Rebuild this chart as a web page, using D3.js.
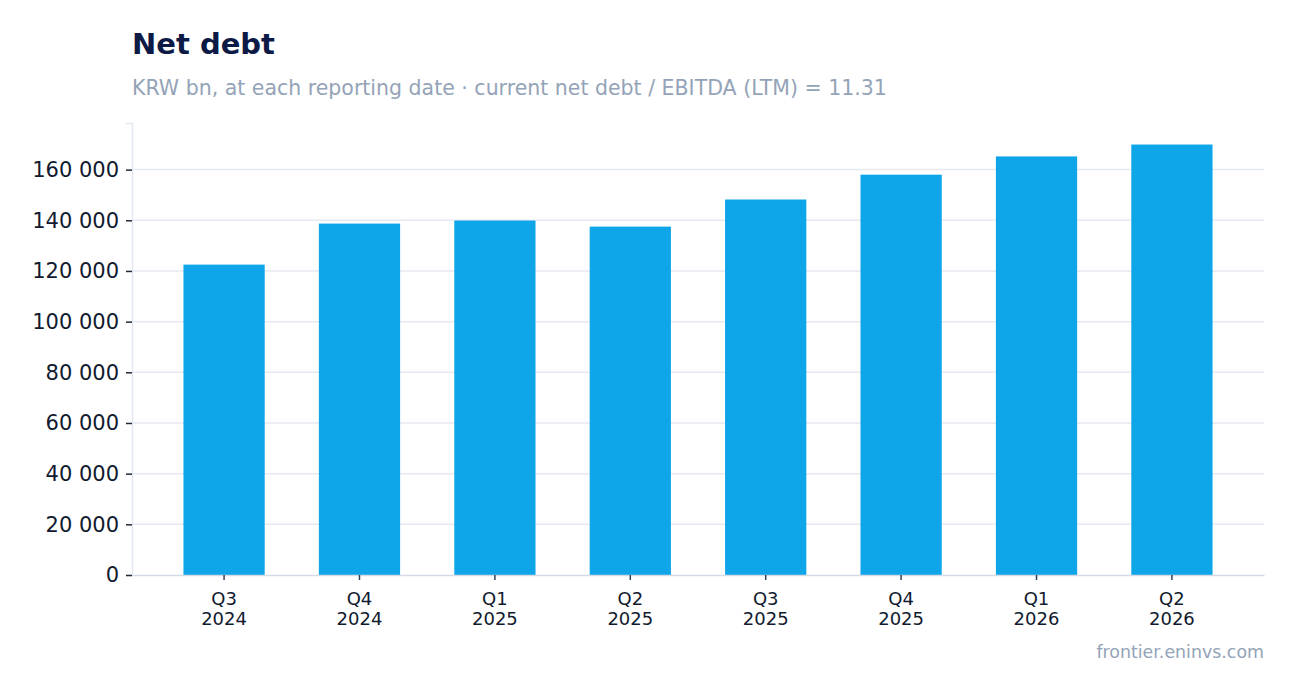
<!DOCTYPE html>
<html>
<head>
<meta charset="utf-8">
<script src="https://d3js.org/d3.v7.min.js"></script>
<style>
  body { margin: 0; background: #fff; font-family: "DejaVu Sans", sans-serif; }
  #chart svg { display: block; }
</style>
</head>
<body>
<div id="chart"></div>
<script>
// values
const quarters = ["Q3", "Q4", "Q1", "Q2", "Q3", "Q4", "Q1", "Q2"];
const years = ["2024", "2024", "2025", "2025", "2025", "2025", "2026", "2026"];
const netDebt = [122500, 138700, 139900, 137500, 148200, 158000, 165200, 169900];
const yTicks = [0, 20000, 40000, 60000, 80000, 100000, 120000, 140000, 160000];

const width = 1294, height = 693;
const margin = { top: 123, right: 30, bottom: 118, left: 132 };

const svg = d3.select("#chart").append("svg")
  .attr("width", width)
  .attr("height", height);

const labels = quarters.map((q, i) => q + "\n" + years[i]);

const x = d3.scaleBand()
  .domain(labels)
  .range([margin.left, width - margin.right])
  .paddingInner(0.4)
  .paddingOuter(0.38);

const y = d3.scaleLinear()
  .domain([0, d3.max(netDebt) * 1.05])
  .range([height - margin.bottom, margin.top]);

const fmt = v => d3.format(",")(v).replace(/,/g, " ");

// gridlines
svg.append("g")
  .selectAll("line")
  .data(yTicks.filter(d => d > 0))
  .join("line")
  .attr("x1", margin.left)
  .attr("x2", width - margin.right)
  .attr("y1", d => y(d))
  .attr("y2", d => y(d))
  .attr("stroke", "#e5e9f0")
  .attr("stroke-width", 1.5);

// bars
svg.append("g")
  .selectAll("rect")
  .data(netDebt)
  .join("rect")
  .attr("x", (d, i) => x(labels[i]))
  .attr("y", d => y(d))
  .attr("width", x.bandwidth())
  .attr("height", d => y(0) - y(d))
  .attr("fill", "#0ea5e9");

// y axis
const yAxis = svg.append("g")
  .attr("transform", `translate(${margin.left},0)`)
  .call(d3.axisLeft(y).tickValues(yTicks).tickFormat(fmt).tickSize(6).tickPadding(7));
yAxis.select(".domain").attr("stroke", "#e2e8f0").attr("stroke-width", 1.5);
yAxis.selectAll(".tick line").attr("stroke", "#1e293b").attr("stroke-width", 1.5);
yAxis.selectAll(".tick text")
  .attr("fill", "#111a2e")
  .style("font-family", "DejaVu Sans")
  .style("font-size", "21px");

// x axis
const xAxis = svg.append("g")
  .attr("transform", `translate(0,${height - margin.bottom})`)
  .call(d3.axisBottom(x).tickSize(5).tickSizeOuter(0).tickFormat(""));
xAxis.select(".domain").attr("stroke", "#d5dbe5").attr("stroke-width", 1.5);
xAxis.selectAll(".tick line").attr("stroke", "#334155").attr("stroke-width", 1.5);
xAxis.selectAll(".tick").each(function(d) {
  const parts = d.split("\n");
  const t = d3.select(this).append("text")
    .attr("fill", "#111a2e")
    .attr("text-anchor", "middle")
    .style("font-family", "DejaVu Sans")
    .style("font-size", "18px");
  parts.forEach((p, i) => {
    t.append("tspan").attr("x", 0).attr("y", 30 + i * 20).text(p);
  });
});

// titles
svg.append("text")
  .attr("x", margin.left)
  .attr("y", 54)
  .attr("fill", "#0c1a45")
  .style("font-size", "29px")
  .style("font-weight", "bold")
  .text("Net debt");

svg.append("text")
  .attr("x", margin.left)
  .attr("y", 95)
  .attr("fill", "#94a3b8")
  .style("font-size", "20.5px")
  .text("KRW bn, at each reporting date · current net debt / EBITDA (LTM) = 11.31");

svg.append("text")
  .attr("x", width - margin.right + 0)
  .attr("y", 658)
  .attr("fill", "#94a3b8")
  .attr("text-anchor", "end")
  .style("font-size", "17.4px")
  .text("frontier.eninvs.com");
</script>
</body>
</html>
